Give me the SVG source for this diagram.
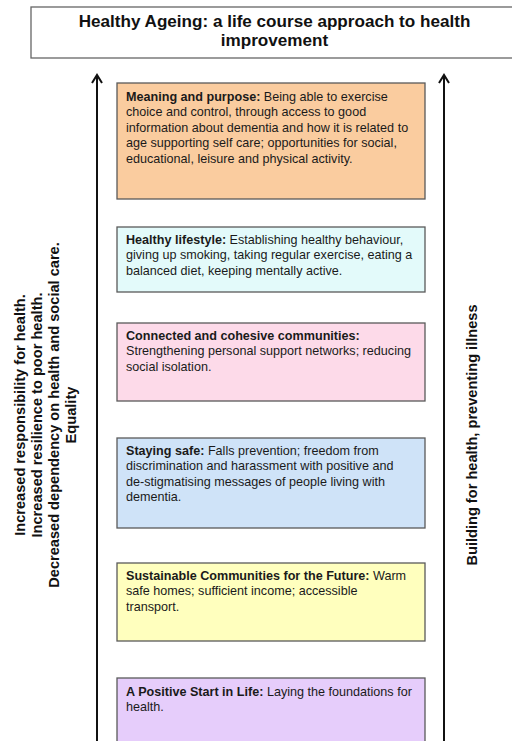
<svg xmlns="http://www.w3.org/2000/svg" width="512" height="741" viewBox="0 0 512 741">
<style>
.t{font-family:"Liberation Sans",Arial,sans-serif;font-size:12.6px;fill:#1a1a1a}
.b{font-weight:bold}
.side{font-family:"Liberation Sans",Arial,sans-serif;font-size:14.6px;font-weight:bold;fill:#111;text-anchor:middle}
.title{font-family:"Liberation Sans",Arial,sans-serif;font-size:17.1px;font-weight:bold;fill:#111;text-anchor:middle}
.box{stroke:#5a5a5a;stroke-width:1.3}
.arr{stroke:#111;stroke-width:2;fill:none}
</style>
<defs>
<marker id="ah" markerWidth="12" markerHeight="12" refX="10" refY="6" orient="auto" markerUnits="userSpaceOnUse" viewBox="0 0 12 12">
<path d="M2,1 L10,6 L2,11" fill="none" stroke="#111" stroke-width="2"/>
</marker>
</defs>
<rect width="512" height="741" fill="#fff"/>
<g id="title">
<rect x="31" y="7" width="490" height="51" fill="#fff" stroke="#666" stroke-width="1.3"/>
<text class="title" x="274.5" y="27">Healthy Ageing: a life course approach to health</text>
<text class="title" x="274.5" y="46">improvement</text>
</g>
<g id="connectors">
<line class="arr" x1="97" y1="741" x2="97" y2="75" marker-end="url(#ah)"/>
<line class="arr" x1="444" y1="741" x2="444" y2="75" marker-end="url(#ah)"/>
</g>
<g id="left-label">
<text class="side" transform="translate(25,415) rotate(-90)">Increased responsibility for health.</text>
<text class="side" transform="translate(42,415) rotate(-90)">Increased resilience to poor health.</text>
<text class="side" transform="translate(59,415) rotate(-90)">Decreased dependency on health and social care.</text>
<text class="side" transform="translate(76,415) rotate(-90)">Equality</text>
</g>
<g id="right-label">
<text class="side" transform="translate(477,435) rotate(-90)">Building for health, preventing illness</text>
</g>
<g id="meaning">
<rect class="box" x="117" y="83" width="308" height="116" fill="#FACC9F"/>
<text class="t" x="126" y="101"><tspan class="b">Meaning and purpose: </tspan>Being able to exercise</text>
<text class="t" x="126" y="116.4">choice and control, through access to good</text>
<text class="t" x="126" y="131.8">information about dementia and how it is related to</text>
<text class="t" x="126" y="147.2">age supporting self care; opportunities for social,</text>
<text class="t" x="126" y="162.6">educational, leisure and physical activity.</text>
</g>
<g id="lifestyle">
<rect class="box" x="117" y="227" width="308" height="65" fill="#E3FAFA"/>
<text class="t" x="126" y="244"><tspan class="b">Healthy lifestyle: </tspan>Establishing healthy behaviour,</text>
<text class="t" x="126" y="259.4">giving up smoking, taking regular exercise, eating a</text>
<text class="t" x="126" y="274.8">balanced diet, keeping mentally active.</text>
</g>
<g id="communities">
<rect class="box" x="117" y="323" width="308" height="78" fill="#FDDAE9"/>
<text class="t b" x="126" y="340">Connected and cohesive communities:</text>
<text class="t" x="126" y="355.4">Strengthening personal support networks; reducing</text>
<text class="t" x="126" y="370.8">social isolation.</text>
</g>
<g id="safe">
<rect class="box" x="117" y="438" width="308" height="90" fill="#CFE3F8"/>
<text class="t" x="126" y="455"><tspan class="b">Staying safe: </tspan>Falls prevention; freedom from</text>
<text class="t" x="126" y="470.4">discrimination and harassment with positive and</text>
<text class="t" x="126" y="485.8">de-stigmatising messages of people living with</text>
<text class="t" x="126" y="501.2">dementia.</text>
</g>
<g id="sustainable">
<rect class="box" x="117" y="563" width="308" height="78" fill="#FFFFBE"/>
<text class="t" x="126" y="580"><tspan class="b">Sustainable Communities for the Future: </tspan>Warm</text>
<text class="t" x="126" y="595.4">safe homes; sufficient income; accessible</text>
<text class="t" x="126" y="610.8">transport.</text>
</g>
<g id="start">
<rect class="box" x="117" y="678" width="308" height="80" fill="#E6CDFB"/>
<text class="t" x="126" y="696"><tspan class="b">A Positive Start in Life: </tspan>Laying the foundations for</text>
<text class="t" x="126" y="711.4">health.</text>
</g>
</svg>
